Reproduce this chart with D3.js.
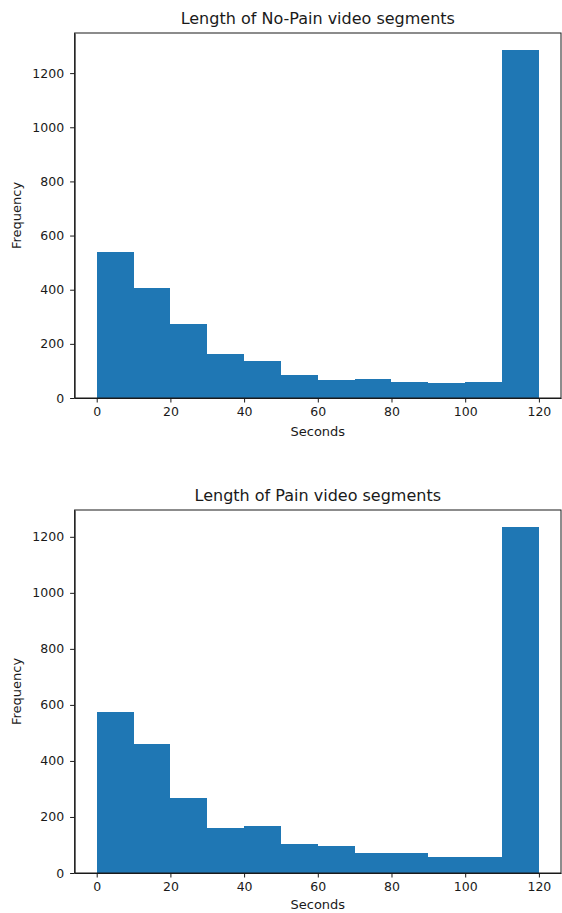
<!DOCTYPE html>
<html>
<head>
<meta charset="utf-8">
<script src="https://cdn.jsdelivr.net/npm/d3@7"></script>
<style>
  body { margin: 0; background: #fff; }
  svg text { font-family: "DejaVu Sans", sans-serif; fill: #1a1a1a; }
  .axis path, .axis line { stroke: #1a1a1a; }
</style>
</head>
<body>
<svg id="chart" width="562" height="913"></svg>
<script>
// bin edges are 0,10,...,120 seconds
const binEdges = [0, 10, 20, 30, 40, 50, 60, 70, 80, 90, 100, 110, 120];
const xTicks = [0, 20, 40, 60, 80, 100, 120];
const yTicks = [0, 200, 400, 600, 800, 1000, 1200];

const noPainCounts = [540, 408, 273, 161, 135, 85, 66, 70, 59, 54, 59, 1284];
const painCounts = [573, 462, 266, 162, 166, 105, 95, 70, 70, 56, 56, 1234];

const panels = [
  { title: "Length of No-Pain video segments", counts: noPainCounts, top: 33, bottom: 398 },
  { title: "Length of Pain video segments", counts: painCounts, top: 510, bottom: 873 }
];

const svg = d3.select("#chart");
const left = 74.6, right = 561;

function drawHist(p) {
  const bins = p.counts.map((c, i) => ({ x0: binEdges[i], x1: binEdges[i + 1], n: c }));

  const scaleX = d3.scaleLinear().domain([-6, 126]).range([left, right]);
  const scaleY = d3.scaleLinear().domain([0, d3.max(p.counts) * 1.05]).range([p.bottom, p.top]);

  svg.append("g")
    .selectAll("rect")
    .data(bins)
    .enter()
    .append("rect")
    .attr("x", d => scaleX(d.x0))
    .attr("y", d => scaleY(d.n))
    .attr("width", d => scaleX(d.x1) - scaleX(d.x0))
    .attr("height", d => p.bottom - scaleY(d.n))
    .attr("shape-rendering", "crispEdges")
    .style("fill", "#1f77b4");

  svg.append("g")
    .attr("class", "axis")
    .attr("transform", `translate(0, ${p.bottom})`)
    .call(d3.axisBottom(scaleX).tickValues(xTicks).tickFormat(d3.format("d"))
      .tickSize(4.5).tickPadding(5).tickSizeOuter(0))
    .selectAll("text")
    .style("font-size", "12.5px")
    .style("font-family", "DejaVu Sans, sans-serif");

  svg.append("g")
    .attr("class", "axis")
    .attr("transform", `translate(${left}, 0)`)
    .call(d3.axisLeft(scaleY).tickValues(yTicks).tickFormat(d3.format("d"))
      .tickSize(4.5).tickPadding(6).tickSizeOuter(0))
    .selectAll("text")
    .style("font-size", "12.5px")
    .style("font-family", "DejaVu Sans, sans-serif");

  // frame
  svg.append("rect")
    .attr("x", left)
    .attr("y", p.top)
    .attr("width", right - left)
    .attr("height", p.bottom - p.top)
    .attr("fill", "none")
    .attr("stroke", "#1a1a1a")
    .attr("stroke-width", 1);

  svg.append("text")
    .attr("x", (left + right) / 2)
    .attr("y", p.top - 9)
    .attr("text-anchor", "middle")
    .style("font-size", "16px")
    .text(p.title);

  svg.append("text")
    .attr("x", (left + right) / 2)
    .attr("y", Math.min(p.bottom + 38, 909))
    .attr("text-anchor", "middle")
    .style("font-size", "13px")
    .text("Seconds");

  svg.append("text")
    .attr("transform", `translate(21, ${(p.top + p.bottom) / 2}) rotate(-90)`)
    .attr("text-anchor", "middle")
    .style("font-size", "13px")
    .text("Frequency");
}

panels.forEach(drawHist);
</script>
</body>
</html>
